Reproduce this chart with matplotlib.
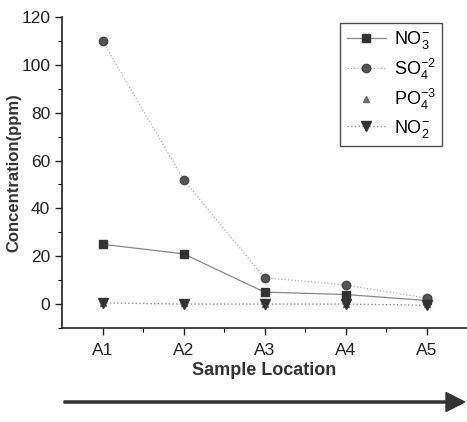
import matplotlib
matplotlib.use("Agg")
import matplotlib.pyplot as plt
import numpy as np

plt.rcParams["font.family"] = ["Liberation Sans", "DejaVu Sans"]
plt.rcParams["mathtext.fontset"] = "custom"
plt.rcParams["mathtext.rm"] = "Liberation Sans"

locations = ["A1", "A2", "A3", "A4", "A5"]
no3 = [25, 21, 5, 4, 1.5]
so4 = [110, 52, 11, 8, 2.5]
po4 = [0.5, 0.3, 0, 0, 0]
no2 = [0.5, 0, 0, 0, -0.5]

x = np.arange(1, len(locations) + 1)

fig = plt.figure(figsize=(4.67, 4.22), dpi=100)
ax = fig.add_axes([62 / 467, 1 - 328 / 422, 405 / 467, 311 / 422])

ax.plot(x, no3, color="#888888", lw=0.9, ls="-", marker="s", ms=6,
        mfc="#333333", mec="#333333", label=r"NO$_3^{\mathrm{-}}$")
ax.plot(x, so4, color="#aaaaaa", lw=0.9, ls=":", marker="o", ms=6,
        mfc="#555555", mec="#444444", label=r"SO$_4^{\mathrm{-2}}$")
ax.plot(x, po4, color="#aaaaaa", lw=0.9, ls="none", marker="^", ms=5,
        mfc="#777777", mec="#666666", label=r"PO$_4^{\mathrm{-3}}$")
ax.plot(x, no2, color="#7890a0", lw=1.0, ls=":", marker="v", ms=7,
        mfc="#333333", mec="#333333", label=r"NO$_2^{\mathrm{-}}$")

ax.set_xlim(0.5, 5.5)
ax.set_ylim(-10, 120)
ax.set_xticks(x)
ax.set_xticklabels(locations)
ax.set_xticks(x[:-1] + 0.5, minor=True)
ax.set_yticks(np.arange(0, 121, 20))
ax.set_yticks(np.arange(-10, 121, 10), minor=True)
ax.tick_params(axis="both", which="major", direction="out", length=5,
               width=1.0, labelsize=12.5, colors="#222222")
ax.tick_params(axis="x", which="major", pad=6)
ax.tick_params(axis="both", which="minor", direction="out", length=3, width=0.8)
for side in ("top", "right"):
    ax.spines[side].set_visible(False)
for side in ("left", "bottom"):
    ax.spines[side].set_linewidth(1.2)
    ax.spines[side].set_color("#222222")

ax.set_ylabel("Concentration(ppm)", fontsize=12, fontweight="bold", color="#333333",
              labelpad=0)
ax.set_xlabel("Sample Location", fontsize=13, fontweight="bold", color="#333333",
              labelpad=3)

leg = ax.legend(loc="upper right", bbox_to_anchor=(0.938, 0.981), fontsize=13,
                frameon=True, fancybox=False, edgecolor="#222222",
                handlelength=2.2, labelspacing=0.3, borderpad=0.35,
                handletextpad=0.4, borderaxespad=0)
leg.get_frame().set_linewidth(1.0)

fig.patches.append(matplotlib.patches.FancyArrow(
    64 / 467, 1 - 402 / 422, 382 / 467, 0, width=0.005, head_width=0.045,
    head_length=0.04, length_includes_head=False, transform=fig.transFigure,
    color="#333333"))

fig.savefig("out.png", dpi=100)
